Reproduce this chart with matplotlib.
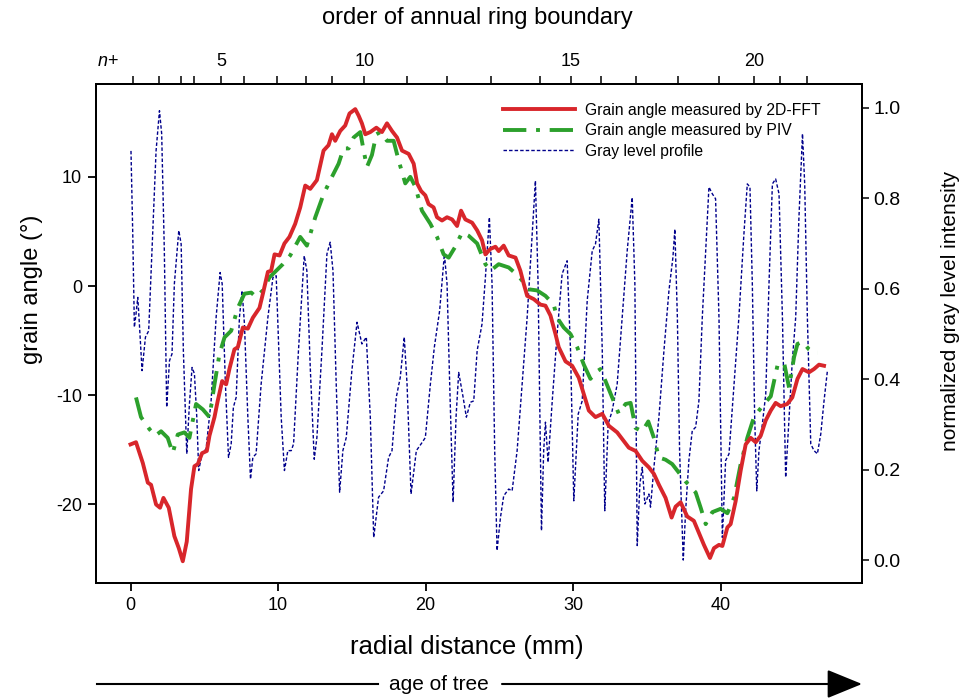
import numpy as np
import matplotlib
matplotlib.use('Agg')
import matplotlib.pyplot as plt
from matplotlib.lines import Line2D

plt.rcParams['axes.unicode_minus'] = False
plt.rcParams['mathtext.fontset'] = 'custom'
plt.rcParams['mathtext.it'] = 'Liberation Sans:italic'
plt.rcParams['mathtext.rm'] = 'Liberation Sans'

fam = ['Liberation Sans', 'DejaVu Sans']

# grain angle by 2D-FFT (deg)
fft_x = [0.0, 0.37, 0.83, 1.17, 1.39, 1.73, 2.0, 2.23, 2.59, 2.97, 3.27, 3.54, 3.81, 4.1, 4.33, 4.56,
         4.85, 5.17, 5.35, 5.69, 5.91, 6.21, 6.48, 6.7, 7.04, 7.27, 7.61, 7.95, 8.29, 8.74, 8.97, 9.31,
         9.53, 9.76, 10.1, 10.43, 10.77, 11.16, 11.5, 11.84, 12.18, 12.63, 13.08, 13.42, 13.65, 13.87,
         14.21, 14.55, 14.84, 15.23, 15.46, 15.68, 15.91, 16.25, 16.66, 17.04, 17.38, 17.72, 18.06, 18.4,
         18.85, 19.19, 19.42, 19.69, 19.98, 20.2, 20.54, 20.77, 21.11, 21.45, 21.79, 22.13, 22.4, 22.69,
         23.15, 23.49, 23.82, 24.05, 24.39, 24.73, 24.95, 25.29, 25.63, 26.09, 26.42, 26.65, 26.88, 27.33,
         27.78, 28.12, 28.46, 28.8, 29.02, 29.48, 29.93, 30.38, 30.72, 31.06, 31.51, 31.97, 32.42, 32.98,
         33.32, 33.77, 34.23, 34.68, 35.13, 35.47, 35.81, 36.26, 36.67, 36.94, 37.28, 37.73, 38.18, 38.52,
         38.86, 39.27, 39.54, 39.88, 40.11, 40.45, 40.67, 41.01, 41.35, 41.69, 42.03, 42.37, 42.71, 43.05,
         43.39, 43.72, 44.06, 44.51, 44.85, 45.2, 45.54, 45.98, 46.32, 46.66, 47.0]
fft_y = [-14.5, -14.3, -16.2, -18.0, -18.2, -20.0, -20.3, -19.4, -20.3, -22.9, -24.0, -25.2, -23.4, -18.6,
         -16.5, -16.3, -15.3, -15.1, -13.7, -12.0, -10.5, -8.7, -9.0, -7.6, -5.8, -5.6, -3.8, -3.9, -2.9,
         -2.0, -0.7, 1.3, 1.4, 2.9, 2.8, 3.9, 4.5, 5.7, 7.2, 9.2, 8.9, 9.7, 12.4, 12.9, 13.9, 13.3, 14.2,
         14.7, 15.8, 16.2, 15.6, 14.9, 13.9, 14.1, 14.5, 14.1, 14.9, 14.2, 13.6, 12.4, 12.1, 11.2, 9.4,
         8.7, 8.3, 7.5, 7.2, 6.3, 6.0, 6.3, 6.1, 5.5, 6.9, 6.1, 5.8, 5.1, 4.2, 2.9, 3.4, 3.6, 3.2, 3.7,
         2.8, 2.6, 1.4, 0.2, -0.9, -1.2, -1.7, -1.8, -2.7, -4.4, -5.6, -6.9, -7.3, -8.4, -9.9, -11.4,
         -12.0, -11.7, -12.8, -13.4, -14.0, -14.8, -15.1, -16.0, -16.6, -17.2, -18.2, -19.4, -21.2,
         -20.2, -19.8, -21.1, -21.5, -22.6, -23.7, -24.9, -24.0, -23.7, -23.8, -22.1, -21.8, -19.7,
         -16.9, -14.5, -13.9, -14.3, -13.7, -12.3, -11.4, -10.7, -11.0, -10.8, -10.2, -8.5, -7.6, -7.9,
         -7.6, -7.2, -7.3]

# grain angle by PIV (deg)
piv_x = [0.37, 0.71, 1.28, 1.68, 2.07, 2.52, 2.86, 3.2, 3.65, 3.99, 4.44, 4.9, 5.35, 5.69, 6.03, 6.37,
         6.82, 7.27, 7.72, 8.18, 8.51, 8.97, 9.42, 9.87, 10.32, 10.82, 11.5, 11.95, 12.52, 13.08, 13.65,
         14.1, 14.44, 14.78, 15.12, 15.57, 15.8, 16.02, 16.36, 16.66, 16.93, 17.38, 17.83, 18.17, 18.62,
         18.96, 19.3, 19.75, 20.32, 20.77, 21.22, 21.56, 22.01, 22.47, 22.92, 23.49, 24.05, 24.39, 24.95,
         25.63, 26.31, 26.99, 27.55, 28.12, 28.68, 28.91, 29.36, 29.82, 30.27, 30.72, 31.17, 31.51, 31.85,
         32.19, 32.64, 33.09, 33.55, 33.89, 34.23, 34.68, 35.09, 35.47, 35.81, 36.26, 36.71, 37.17, 37.62,
         38.3, 38.64, 38.98, 39.43, 39.99, 40.45, 40.9, 41.35, 41.8, 42.25, 42.59, 42.93, 43.39, 43.84,
         44.29, 44.63, 44.97, 45.2, 45.54, 45.98, 46.32, 46.59]
piv_y = [-10.2, -12.0, -13.1, -13.7, -13.3, -13.9, -15.3, -13.6, -13.4, -13.9, -10.8, -11.3, -12.0, -9.0,
         -6.2, -4.7, -4.1, -2.0, -0.7, -0.6, -1.0, -0.4, 0.8, 1.4, 2.0, 2.8, 4.5, 3.7, 6.3, 8.4, 10.0,
         11.2, 12.6, 12.6, 13.6, 14.1, 12.4, 10.9, 12.0, 13.9, 14.1, 13.3, 13.3, 11.5, 9.4, 10.0, 9.1,
         6.9, 5.7, 4.5, 2.9, 2.6, 3.6, 4.9, 4.6, 3.9, 2.0, 1.4, 2.0, 1.7, 0.9, -0.3, -0.4, -0.9, -1.7,
         -2.9, -3.8, -4.4, -5.6, -7.2, -8.5, -7.9, -7.6, -8.7, -10.2, -11.7, -10.8, -10.7, -13.0, -13.3,
         -12.4, -13.9, -15.7, -15.9, -16.3, -17.1, -17.9, -18.9, -20.3, -21.8, -20.7, -20.4, -20.8,
         -19.4, -16.3, -13.9, -12.0, -11.4, -10.8, -10.1, -7.3, -7.0, -9.3, -6.5, -5.3, -5.1, -5.8,
         -6.1, -6.1]

# normalized gray level profile
gray_x = [0.03, 0.15, 0.26, 0.37, 0.49, 0.6, 0.78, 1.01, 1.23, 1.5, 1.73, 1.96, 2.11, 2.29, 2.45, 2.64,
          2.81, 2.97, 3.27, 3.43, 3.58, 3.81, 3.99, 4.17, 4.33, 4.49, 4.62, 4.85, 5.12, 5.46, 5.8, 6.07,
          6.21, 6.43, 6.64, 6.82, 6.97, 7.16, 7.38, 7.56, 7.72, 7.95, 8.13, 8.29, 8.51, 8.85, 9.31, 9.65,
          9.87, 10.05, 10.21, 10.43, 10.66, 10.89, 11.05, 11.38, 11.77, 11.95, 12.18, 12.45, 12.63, 12.97,
          13.31, 13.53, 13.72, 13.94, 14.17, 14.39, 14.62, 15.0, 15.35, 15.68, 15.98, 16.25, 16.48, 16.81,
          17.15, 17.49, 17.72, 18.01, 18.28, 18.55, 18.74, 19.01, 19.37, 19.76, 19.98, 20.32, 20.59, 20.95,
          21.27, 21.45, 21.63, 21.86, 22.06, 22.24, 22.54, 22.76, 23.03, 23.26, 23.49, 23.82, 24.05, 24.32,
          24.5, 24.68, 24.84, 25.07, 25.29, 25.63, 25.86, 26.2, 26.54, 26.88, 27.22, 27.44, 27.62, 27.85,
          28.0, 28.12, 28.3, 28.58, 28.91, 29.25, 29.59, 29.82, 30.04, 30.34, 30.61, 30.95, 31.29, 31.51,
          31.74, 31.97, 32.14, 32.37, 32.64, 32.98, 33.32, 33.66, 34.0, 34.18, 34.34, 34.52, 34.68, 34.86,
          35.13, 35.24, 35.47, 35.81, 36.15, 36.49, 36.76, 36.89, 37.06, 37.21, 37.46, 37.62, 37.84, 38.07,
          38.3, 38.52, 38.75, 38.98, 39.2, 39.43, 39.65, 39.88, 40.11, 40.33, 40.56, 40.9, 41.23, 41.57,
          41.8, 41.98, 42.14, 42.3, 42.44, 42.59, 42.82, 43.05, 43.27, 43.5, 43.72, 43.95, 44.18, 44.4,
          44.63, 44.85, 45.08, 45.3, 45.54, 45.69, 45.87, 46.1, 46.32, 46.55, 46.78, 47.0, 47.23]
gray_v = [0.905, 0.721, 0.515, 0.544, 0.581, 0.522, 0.419, 0.493, 0.507, 0.721, 0.905, 0.994, 0.943, 0.684,
          0.338, 0.441, 0.456, 0.611, 0.729, 0.699, 0.463, 0.235, 0.345, 0.426, 0.412, 0.316, 0.198, 0.235,
          0.246, 0.352, 0.537, 0.636, 0.611, 0.389, 0.227, 0.257, 0.338, 0.36, 0.537, 0.596, 0.522, 0.316,
          0.179, 0.227, 0.235, 0.389, 0.537, 0.625, 0.629, 0.463, 0.316, 0.198, 0.242, 0.242, 0.257, 0.463,
          0.673, 0.64, 0.426, 0.223, 0.271, 0.463, 0.677, 0.703, 0.64, 0.389, 0.15, 0.242, 0.271, 0.419,
          0.526, 0.478, 0.493, 0.316, 0.05, 0.139, 0.153, 0.227, 0.242, 0.36, 0.404, 0.493, 0.389, 0.146,
          0.242, 0.26, 0.271, 0.389, 0.471, 0.552, 0.677, 0.611, 0.389, 0.128, 0.316, 0.415, 0.36, 0.316,
          0.349, 0.352, 0.463, 0.522, 0.625, 0.758, 0.611, 0.242, 0.021, 0.094, 0.142, 0.157, 0.153, 0.242,
          0.389, 0.537, 0.721, 0.839, 0.611, 0.065, 0.242, 0.305, 0.216, 0.352, 0.5, 0.633, 0.662, 0.463,
          0.131, 0.323, 0.352, 0.574, 0.684, 0.699, 0.754, 0.463, 0.109, 0.301, 0.33, 0.389, 0.537, 0.684,
          0.802, 0.611, 0.032, 0.168, 0.205, 0.124, 0.146, 0.117, 0.205, 0.316, 0.463, 0.596, 0.67, 0.732,
          0.537, 0.242, 0.0, 0.109, 0.22, 0.286, 0.294, 0.352, 0.537, 0.684, 0.825, 0.81, 0.799, 0.537,
          0.05, 0.22, 0.235, 0.389, 0.537, 0.721, 0.832, 0.825, 0.611, 0.316, 0.153, 0.242, 0.301, 0.367,
          0.611, 0.832, 0.843, 0.81, 0.537, 0.183, 0.316, 0.441, 0.537, 0.758, 0.943, 0.832, 0.537, 0.257,
          0.242, 0.235, 0.279, 0.352, 0.419]

# annual ring boundaries (mm) and their labels
ring_pos = [0.20, 1.93, 3.39, 4.27, 6.14, 7.70, 9.90, 11.91, 13.64, 15.84, 18.76, 21.44, 24.42, 27.74,
            29.84, 31.88, 34.23, 37.11, 39.89, 42.27, 44.00, 45.86]
ring_labels = ['', '', '', '', '5', '', '', '', '', '10', '', '', '', '', '15', '', '', '', '', '20', '', '']

fig = plt.figure(figsize=(9.64, 7.0), dpi=100)
ax = fig.add_axes([0.0996, 0.167, 0.795, 0.713])
axr = ax.twinx()
axt = ax.twiny()

red, = ax.plot(fft_x, fft_y, color='#d8262b', lw=2.8, zorder=3, label='Grain angle measured by 2D-FFT')
green, = ax.plot(piv_x, piv_y, color='#2ca02c', lw=2.8, dashes=(6, 2.5, 1, 2.5), zorder=2,
                 label='Grain angle measured by PIV')
blue, = axr.plot(gray_x, gray_v, color='#00008b', lw=1.0, dashes=(2.5, 1.5), label='Gray level profile')

ax.set_zorder(axr.get_zorder() + 1)
ax.patch.set_visible(False)

ax.set_xlim(-2.34, 49.6)
ax.set_ylim(-27.2, 18.5)
axr.set_ylim(-0.051, 1.053)
axt.set_xlim(ax.get_xlim())

ax.set_xticks([0, 10, 20, 30, 40])
ax.set_yticks([-20, -10, 0, 10])
axr.set_yticks([0.0, 0.2, 0.4, 0.6, 0.8, 1.0])
axr.set_yticklabels(['%.1f' % v for v in [0.0, 0.2, 0.4, 0.6, 0.8, 1.0]])

axt.set_xticks(ring_pos + [-1.56])
axt.set_xticklabels(ring_labels + ['$n$+'])
axt.xaxis.get_major_ticks()[-1].tick2line.set_visible(False)

for a in (ax, axr, axt):
    for s in a.spines.values():
        s.set_linewidth(1.3)
ax.tick_params(direction='out', length=6, width=1.3, labelsize=13, pad=4)
axt.tick_params(direction='out', length=6, width=1.1, labelsize=13, pad=4)
axr.tick_params(direction='out', length=5, width=1.1, labelsize=14, pad=3)
for lab in ax.get_xticklabels() + ax.get_yticklabels() + axt.get_xticklabels() + axr.get_yticklabels():
    lab.set_family(fam)

fig.text(32 / 964, 1 - 289 / 700, 'grain angle (°)', rotation=90, ha='center', va='center',
         fontsize=17, family=fam)
fig.text(950 / 964, 1 - 311 / 700, 'normalized gray level intensity', rotation=90, ha='center',
         va='center', fontsize=15, family=fam)
fig.text(467 / 964, 1 - 647 / 700, 'radial distance (mm)', ha='center', va='center', fontsize=18.5,
         family=fam)
fig.text(477 / 964, 1 - 18 / 700, 'order of annual ring boundary', ha='center', va='center', fontsize=17,
         family=fam)

# age of tree arrow
y_arr = 1 - 684 / 700
fig.text(439 / 964, y_arr, 'age of tree', ha='center', va='center', fontsize=15, family=fam)
fig.add_artist(Line2D([97 / 964, 378 / 964], [y_arr, y_arr], color='black', lw=1.5))
ax.annotate('', xy=(862 / 964, y_arr), xytext=(502 / 964, y_arr), xycoords='figure fraction',
            textcoords='figure fraction',
            arrowprops=dict(arrowstyle='-|>,head_length=1.1,head_width=0.45', color='black', lw=1.5,
                            mutation_scale=20, shrinkA=0, shrinkB=0))

leg = ax.legend(handles=[red, green, blue], loc='upper left', bbox_to_anchor=(0.531, 0.962),
                frameon=False, handlelength=4.6, handletextpad=0.65, labelspacing=0.35,
                borderpad=0, borderaxespad=0, prop={'family': fam, 'size': 11.3})

fig.savefig('out.png', dpi=100)
